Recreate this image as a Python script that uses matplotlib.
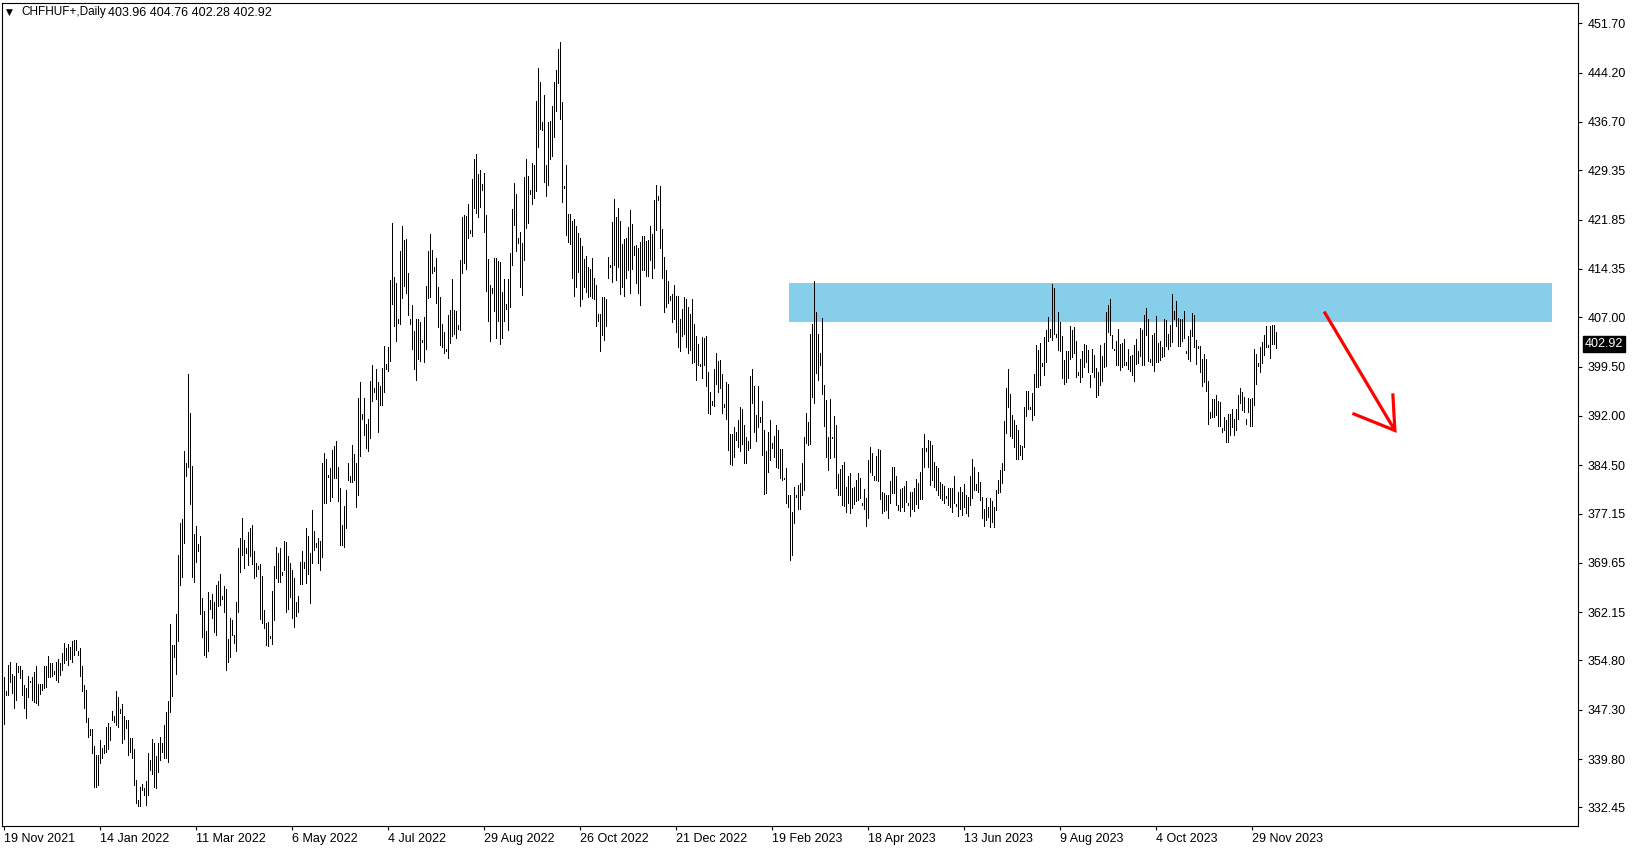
import numpy as np
import matplotlib
matplotlib.use('Agg')
import matplotlib.pyplot as plt
from matplotlib.patches import Rectangle
from matplotlib.transforms import blended_transform_factory

plt.rcParams['font.family'] = ['Liberation Sans', 'DejaVu Sans']

# Daily CHFHUF+ bars (high / low) in six chunks
high_a = [352.3, 350.2, 354.1, 354.6, 352.8, 352.4, 354.4, 354.0, 354.0, 353.4,
          351.0, 350.6, 352.4, 351.7, 352.3, 353.1, 354.0, 351.3, 351.2, 351.3,
          354.0, 354.0, 355.5, 354.4, 354.4, 353.2, 354.6, 355.0, 354.4, 355.9,
          357.4, 356.7, 357.3, 356.9, 357.7, 357.9, 357.9, 356.2, 356.7, 354.0,
          351.1, 350.3, 346.1, 344.4, 344.4, 341.8, 340.4, 340.4, 342.7, 341.5,
          341.9, 344.7, 345.3, 344.7, 347.1, 346.4, 350.2, 349.2, 347.4, 348.2,
          346.3, 345.8, 345.7, 343.0, 343.0, 341.3, 336.6, 333.6, 335.6, 336.0,
          335.4, 336.4, 340.7, 339.7, 342.9, 342.2, 340.2, 342.2, 343.1, 342.2,
          345.0, 346.9, 348.7, 360.4, 357.2, 357.2, 361.9, 370.8, 375.7, 376.3,
          386.6, 384.9, 398.4, 392.5, 384.4, 374.1, 375.3, 372.5, 373.7, 364.3,
          362.4, 359.3, 365.2, 364.0, 364.9, 363.7]
low_a = [345.2, 349.6, 349.6, 351.6, 349.8, 347.6, 348.8, 353.1, 352.1, 349.6,
         347.6, 346.0, 349.3, 351.6, 348.8, 348.5, 348.3, 348.0, 349.7, 350.3,
         350.6, 350.8, 352.3, 352.3, 352.4, 352.8, 351.9, 351.6, 352.6, 353.4,
         354.4, 354.9, 354.1, 355.1, 354.6, 355.6, 356.4, 355.6, 352.4, 350.1,
         347.5, 345.5, 343.2, 343.5, 340.7, 335.6, 335.6, 335.9, 339.2, 339.9,
         340.7, 340.9, 341.4, 342.7, 345.8, 345.5, 345.0, 344.7, 346.8, 342.3,
         342.8, 344.5, 340.4, 340.9, 339.9, 335.9, 333.1, 332.6, 332.6, 335.1,
         334.4, 332.8, 334.4, 338.2, 337.6, 335.6, 335.4, 337.9, 339.7, 340.9,
         339.9, 339.9, 339.4, 347.0, 349.4, 355.4, 352.7, 357.8, 366.3, 367.5,
         372.7, 382.8, 384.3, 378.6, 367.5, 366.8, 369.8, 371.5, 361.9, 358.3,
         355.7, 355.4, 356.3, 362.7, 361.3, 359.2]

high_b = [366.3, 366.9, 367.9, 364.6, 366.1, 365.7, 358.1, 361.2, 361.0, 358.7,
          363.7, 371.9, 373.4, 376.4, 373.2, 371.9, 374.4, 374.9, 375.4, 371.4,
          369.6, 369.2, 369.5, 367.7, 362.5, 360.5, 360.6, 358.6, 365.4, 369.1,
          372.1, 371.2, 371.9, 368.3, 372.9, 372.8, 370.7, 369.6, 368.6, 367.3,
          363.7, 364.6, 369.8, 371.4, 369.8, 375.0, 373.7, 371.2, 377.7, 374.5,
          372.6, 373.5, 372.9, 384.8, 386.3, 385.5, 383.0, 384.0, 386.8, 387.4,
          388.2, 384.3, 381.0, 375.4, 378.3, 380.8, 384.9, 382.8, 387.6, 386.2,
          384.9, 394.7, 397.1, 392.3, 394.7, 390.8, 391.6, 397.3, 399.7, 396.3,
          399.1, 397.2, 396.6, 399.3, 402.7, 399.9, 402.4, 412.7, 421.4, 413.1,
          412.2, 406.8, 417.0, 420.9, 418.8, 418.9, 413.8, 406.8, 408.9, 404.9,
          406.7, 406.8, 406.3, 403.6, 407.0, 411.8, 417.1, 419.7]
low_b = [358.7, 363.1, 363.2, 364.2, 362.1, 353.3, 354.6, 355.4, 358.7, 357.5,
         356.3, 362.2, 368.3, 370.8, 368.8, 371.1, 369.3, 370.7, 369.4, 367.3,
         367.6, 368.7, 361.1, 360.5, 359.7, 357.2, 357.0, 358.2, 357.3, 361.0,
         367.3, 366.8, 366.8, 367.8, 368.6, 362.1, 362.7, 364.5, 361.2, 359.9,
         361.5, 362.2, 366.5, 366.5, 368.8, 366.6, 367.9, 363.6, 369.6, 371.6,
         372.0, 369.6, 368.5, 370.5, 378.7, 378.7, 382.7, 379.0, 379.7, 382.5,
         382.5, 379.0, 372.4, 372.4, 372.0, 374.9, 382.2, 382.0, 382.0, 382.2,
         378.2, 379.9, 385.9, 391.5, 389.1, 387.1, 386.7, 388.7, 394.3, 395.7,
         394.6, 389.6, 393.7, 393.7, 395.6, 399.2, 398.9, 400.4, 409.0, 405.7,
         403.4, 406.1, 405.9, 409.9, 411.8, 410.7, 407.3, 406.0, 402.2, 399.1,
         397.5, 400.7, 400.4, 403.3, 400.2, 402.2, 410.0, 410.1]

high_c = [417.2, 414.7, 416.0, 411.6, 410.1, 406.0, 404.7, 402.1, 407.3, 408.1,
          412.8, 408.1, 407.9, 405.8, 415.7, 422.3, 422.5, 422.4, 424.2, 420.2,
          428.1, 431.1, 431.9, 428.8, 429.4, 427.2, 428.9, 422.5, 415.8, 411.9,
          411.4, 416.0, 416.0, 415.5, 415.4, 410.9, 412.8, 409.0, 412.8, 416.8,
          423.5, 427.4, 425.8, 419.1, 419.9, 418.3, 428.4, 431.0, 428.5, 426.3,
          430.4, 430.1, 439.9, 444.9, 442.7, 436.7, 440.8, 430.1, 436.7, 436.9,
          439.1, 442.7, 444.6, 447.8, 448.8, 439.7, 426.9, 430.1, 422.7, 422.7,
          421.7, 421.9, 420.9, 419.8, 419.1, 417.8, 415.8, 416.3, 414.6, 414.3,
          416.0, 412.9, 411.9, 407.5, 407.5, 410.1, 410.1, 409.7, 416.2, 414.9,
          421.5, 425.0, 422.3, 423.6, 421.7, 418.2, 418.9, 419.0, 420.8, 423.3,
          421.2, 417.8, 418.0, 417.5, 418.4, 419.3, 419.3]
low_c = [413.8, 414.1, 409.2, 405.5, 402.8, 402.4, 401.5, 401.9, 400.8, 403.1,
         404.1, 404.5, 403.9, 405.2, 405.0, 413.8, 415.2, 414.3, 419.0, 419.8,
         419.4, 423.6, 422.8, 422.2, 423.8, 426.4, 419.9, 411.0, 406.5, 403.4,
         410.7, 408.0, 403.8, 406.5, 402.9, 403.8, 406.5, 408.2, 405.0, 408.5,
         415.0, 421.0, 417.0, 418.3, 411.6, 410.4, 415.7, 420.5, 421.4, 425.7,
         424.2, 425.1, 426.2, 432.9, 435.7, 435.5, 427.5, 425.5, 427.1, 431.0,
         431.5, 434.4, 438.3, 442.6, 437.2, 424.6, 426.6, 419.5, 418.5, 418.2,
         412.9, 410.2, 411.6, 413.9, 408.7, 409.7, 411.6, 410.9, 410.1, 410.2,
         409.9, 409.7, 405.7, 406.4, 401.9, 404.3, 403.6, 405.7, 412.9, 414.6,
         412.4, 415.0, 412.7, 414.7, 410.6, 411.6, 410.3, 412.9, 414.2, 410.7,
         414.3, 416.5, 412.2, 410.7, 408.9, 414.2, 414.2]

high_d = [418.6, 418.7, 420.9, 419.7, 424.8, 427.1, 425.4, 426.9, 420.4, 416.1,
          414.2, 412.5, 410.2, 410.5, 411.9, 410.2, 410.2, 406.7, 408.3, 410.1,
          409.7, 408.5, 407.5, 409.8, 406.0, 404.2, 402.9, 399.9, 404.0, 403.8,
          404.2, 398.7, 395.7, 394.3, 399.1, 401.6, 400.4, 400.5, 398.4, 393.8,
          397.1, 396.8, 389.2, 389.2, 390.3, 389.5, 391.4, 393.3, 393.1, 390.6,
          388.8, 388.2, 398.1, 399.2, 396.5, 392.1, 396.5, 391.9, 394.3, 389.9,
          386.7, 389.5, 391.4, 387.8, 388.9, 390.6, 389.8, 387.0, 387.0, 382.5,
          384.0, 380.0, 380.0, 377.4, 381.2, 380.0, 381.5, 381.8, 384.9, 388.8,
          392.5, 391.0, 404.4, 406.0, 412.5, 407.8, 404.4, 401.5, 406.9, 396.7,
          394.4, 388.8, 394.5, 388.8, 392.0, 390.6, 383.2, 383.9, 384.5, 385.0,
          381.2, 382.9, 383.3, 381.1, 381.2, 382.2, 383.3, 382.5]
low_d = [413.2, 413.2, 415.7, 413.0, 414.5, 420.3, 424.8, 417.6, 412.9, 407.8,
         408.5, 409.2, 409.6, 406.3, 406.7, 404.8, 402.4, 401.8, 404.2, 404.4,
         402.4, 401.5, 402.0, 400.1, 400.2, 397.5, 399.7, 399.6, 397.7, 399.7,
         396.5, 392.5, 392.3, 393.7, 393.5, 396.9, 395.7, 396.2, 392.4, 393.4,
         391.5, 386.8, 384.7, 384.6, 385.7, 388.4, 387.2, 386.6, 387.7, 384.8,
         384.8, 386.8, 387.1, 394.0, 389.5, 388.2, 390.3, 391.1, 386.1, 380.1,
         380.3, 383.4, 385.3, 387.1, 385.7, 384.3, 384.0, 382.5, 382.2, 382.4,
         378.7, 378.1, 370.1, 370.8, 375.7, 379.7, 377.8, 377.9, 380.0, 380.8,
         387.9, 387.6, 387.7, 394.9, 394.0, 398.5, 397.4, 399.7, 395.4, 390.5,
         385.8, 383.7, 385.6, 388.7, 385.7, 381.1, 380.0, 380.0, 378.5, 378.3,
         377.4, 378.7, 377.3, 378.0, 378.6, 379.0, 379.2, 379.5]

high_e = [378.7, 380.9, 379.5, 385.3, 387.3, 386.4, 382.8, 385.9, 387.0, 386.8,
          380.5, 380.3, 380.0, 380.0, 382.1, 384.3, 384.2, 382.8, 378.4, 380.9,
          381.0, 381.3, 382.1, 378.8, 380.5, 380.5, 381.0, 382.4, 381.8, 383.5,
          387.1, 389.2, 387.1, 388.3, 388.2, 387.6, 385.0, 384.4, 384.0, 381.9,
          381.6, 381.3, 379.8, 381.1, 381.1, 381.0, 382.8, 378.6, 380.5, 381.2,
          380.4, 381.6, 380.0, 379.7, 382.8, 385.5, 384.3, 381.7, 383.5, 382.0,
          379.7, 377.8, 379.5, 378.2, 379.5, 379.0, 378.2, 380.7, 382.3, 383.8,
          384.9, 391.2, 396.3, 399.1, 395.3, 392.1, 391.4, 390.6, 389.8, 387.5,
          387.4, 393.4, 395.8, 395.8, 393.4, 395.5, 398.4, 402.8, 402.0, 403.1,
          400.1, 404.0, 405.1, 407.1, 405.2, 412.1, 411.5, 404.4, 407.8, 406.3,
          404.1, 400.5, 401.8, 401.8, 405.6]
low_e = [378.4, 377.9, 375.3, 376.4, 383.4, 383.0, 382.3, 382.3, 382.1, 379.3,
         377.3, 377.6, 377.7, 376.4, 378.7, 380.3, 380.2, 378.4, 377.7, 377.6,
         378.1, 377.6, 378.9, 378.4, 376.7, 377.8, 377.5, 378.6, 378.0, 379.4,
         379.3, 384.2, 386.6, 384.3, 381.5, 382.3, 381.2, 380.7, 380.0, 379.5,
         379.2, 378.7, 379.5, 378.5, 378.2, 377.4, 378.7, 378.3, 376.7, 377.9,
         377.0, 378.2, 377.2, 376.8, 378.4, 379.5, 380.8, 380.7, 380.5, 379.2,
         376.4, 375.2, 376.2, 376.6, 375.1, 375.9, 375.1, 377.7, 380.3, 380.5,
         381.8, 383.8, 389.4, 393.4, 389.0, 388.6, 387.3, 385.5, 385.4, 386.0,
         385.5, 387.3, 392.0, 393.0, 393.0, 391.4, 392.1, 396.4, 396.4, 396.7,
         399.6, 398.2, 400.2, 403.4, 404.0, 403.5, 404.5, 404.0, 402.0, 401.8,
         397.7, 396.9, 397.2, 397.7, 400.7]

high_f = [405.1, 405.5, 403.4, 398.6, 400.7, 401.8, 402.9, 402.8, 402.0, 398.2,
          402.2, 401.3, 399.3, 398.6, 402.8, 401.1, 403.1, 407.8, 408.9, 409.8,
          404.3, 402.2, 403.4, 405.2, 402.9, 403.1, 403.7, 400.2, 402.2, 401.1,
          401.3, 402.8, 403.7, 401.9, 405.3, 405.0, 407.3, 408.4, 406.8, 400.7,
          404.3, 404.6, 407.2, 403.1, 403.4, 402.4, 406.7, 406.6, 404.4, 405.8,
          410.6, 407.9, 409.5, 406.9, 406.7, 406.7, 407.9, 401.9, 404.1, 405.1,
          407.7, 407.3, 403.6, 402.6, 402.6, 400.6, 401.4, 400.6, 397.3, 392.6,
          394.6, 394.6, 395.2, 394.3, 394.1, 390.2, 391.8, 391.4, 392.3, 392.3,
          393.1, 391.6, 393.1, 395.2, 396.2, 395.7, 394.9, 391.6, 394.7, 394.5,
          394.7, 402.2, 401.4, 400.1, 402.4, 403.3, 404.3, 405.7, 402.8, 405.7,
          405.8, 405.8, 404.76]
low_f = [400.9, 401.5, 397.9, 398.2, 397.2, 397.9, 399.4, 400.2, 398.6, 396.4,
         398.7, 397.9, 394.9, 395.2, 396.7, 397.3, 399.5, 399.6, 404.8, 404.3,
         402.3, 402.0, 399.7, 399.7, 399.0, 399.5, 399.7, 399.8, 399.1, 398.9,
         398.2, 397.3, 399.9, 400.1, 401.1, 399.7, 399.7, 404.3, 400.4, 400.2,
         399.7, 398.9, 400.2, 400.2, 400.5, 401.0, 401.1, 402.6, 402.2, 402.6,
         403.3, 406.7, 405.7, 402.6, 402.6, 403.4, 403.8, 401.6, 400.6, 400.4,
         404.1, 402.4, 399.9, 402.3, 398.7, 396.5, 397.1, 395.8, 390.8, 391.7,
         391.9, 391.9, 392.1, 390.4, 390.4, 389.6, 389.9, 388.1, 388.1, 389.1,
         390.3, 389.1, 389.9, 391.5, 394.0, 392.9, 392.6, 390.8, 392.6, 390.4,
         390.4, 393.7, 396.8, 399.6, 398.6, 400.1, 401.3, 402.4, 402.5, 400.8,
         402.9, 402.9, 402.28]

date_labels = ['19 Nov 2021', '14 Jan 2022', '11 Mar 2022', '6 May 2022', '4 Jul 2022',
               '29 Aug 2022', '26 Oct 2022', '21 Dec 2022', '19 Feb 2023', '18 Apr 2023',
               '13 Jun 2023', '9 Aug 2023', '4 Oct 2023', '29 Nov 2023']
bars_per_label = 48

price_ticks = [451.70, 444.20, 436.70, 429.35, 421.85, 414.35, 407.00, 399.50, 392.00,
               384.50, 377.15, 369.65, 362.15, 354.80, 347.30, 339.80, 332.45]

last_ohlc = [403.96, 404.76, 402.28, 402.92]

# resistance zone and the drawn arrow (bar index, price)
zone_x = [392.7, 774.0]
zone_y = [406.32, 412.21]
arrow_line = ([660.3, 695.7], [407.87, 389.78])
arrow_head = ([675.2, 695.7, 694.7], [392.29, 389.78, 395.18])

highs = np.array(high_a + high_b + high_c + high_d + high_e + high_f)
lows = np.array(low_a + low_b + low_c + low_d + low_e + low_f)
x = np.arange(len(highs))

fig = plt.figure(figsize=(16.35, 8.5), dpi=100)
ax = fig.add_axes([2 / 1635, 24 / 850, 1576 / 1635, 823 / 850])

ax.add_patch(Rectangle((zone_x[0], zone_y[0]), zone_x[1] - zone_x[0], zone_y[1] - zone_y[0],
                       facecolor='#87CEEB', edgecolor='none', zorder=0))
ax.vlines(x, lows, highs, colors='black', linewidth=0.55, antialiased=False, zorder=2)

ax.plot(arrow_line[0], arrow_line[1], color='red', lw=2.3, solid_capstyle='butt', zorder=3)
ax.plot(arrow_head[0], arrow_head[1], color='red', lw=2.3, solid_joinstyle='miter', zorder=3)

ax.set_xlim(-0.75, 787.25)
ax.set_ylim(329.63, 454.79)

ax.set_xticks(np.arange(len(date_labels)) * bars_per_label)
ax.set_xticklabels(date_labels, ha='left')
ax.yaxis.tick_right()
ax.set_yticks(price_ticks)
ax.set_yticklabels(['%.2f' % p for p in price_ticks])
ax.tick_params(axis='x', direction='out', length=3, width=0.8, pad=2, labelsize=9)
ax.tick_params(axis='y', direction='out', length=3, width=0.8, pad=4, labelsize=9)
for s in ax.spines.values():
    s.set_linewidth(0.8)
    s.set_color('black')

# current price tag
trans = blended_transform_factory(ax.transAxes, ax.transData)
ax.text(1.0045, last_ohlc[3], '%.2f' % last_ohlc[3], transform=trans, ha='left', va='center',
        fontsize=9, color='white',
        bbox=dict(boxstyle='square,pad=0.15', facecolor='black', edgecolor='black'))

# header line
ty = 1 - 12.5 / 850
fig.text(6 / 1635, ty, '\u25bc', fontsize=6.5, va='center', ha='left', family=['DejaVu Sans'])
fig.text(21 / 1635, ty, 'CHFHUF+,Daily', fontsize=8.5, va='center', ha='left')
fig.text(108 / 1635, ty, ' '.join('%.2f' % v for v in last_ohlc),
         fontsize=9, va='center', ha='left')

fig.savefig('out.png', dpi=100)
